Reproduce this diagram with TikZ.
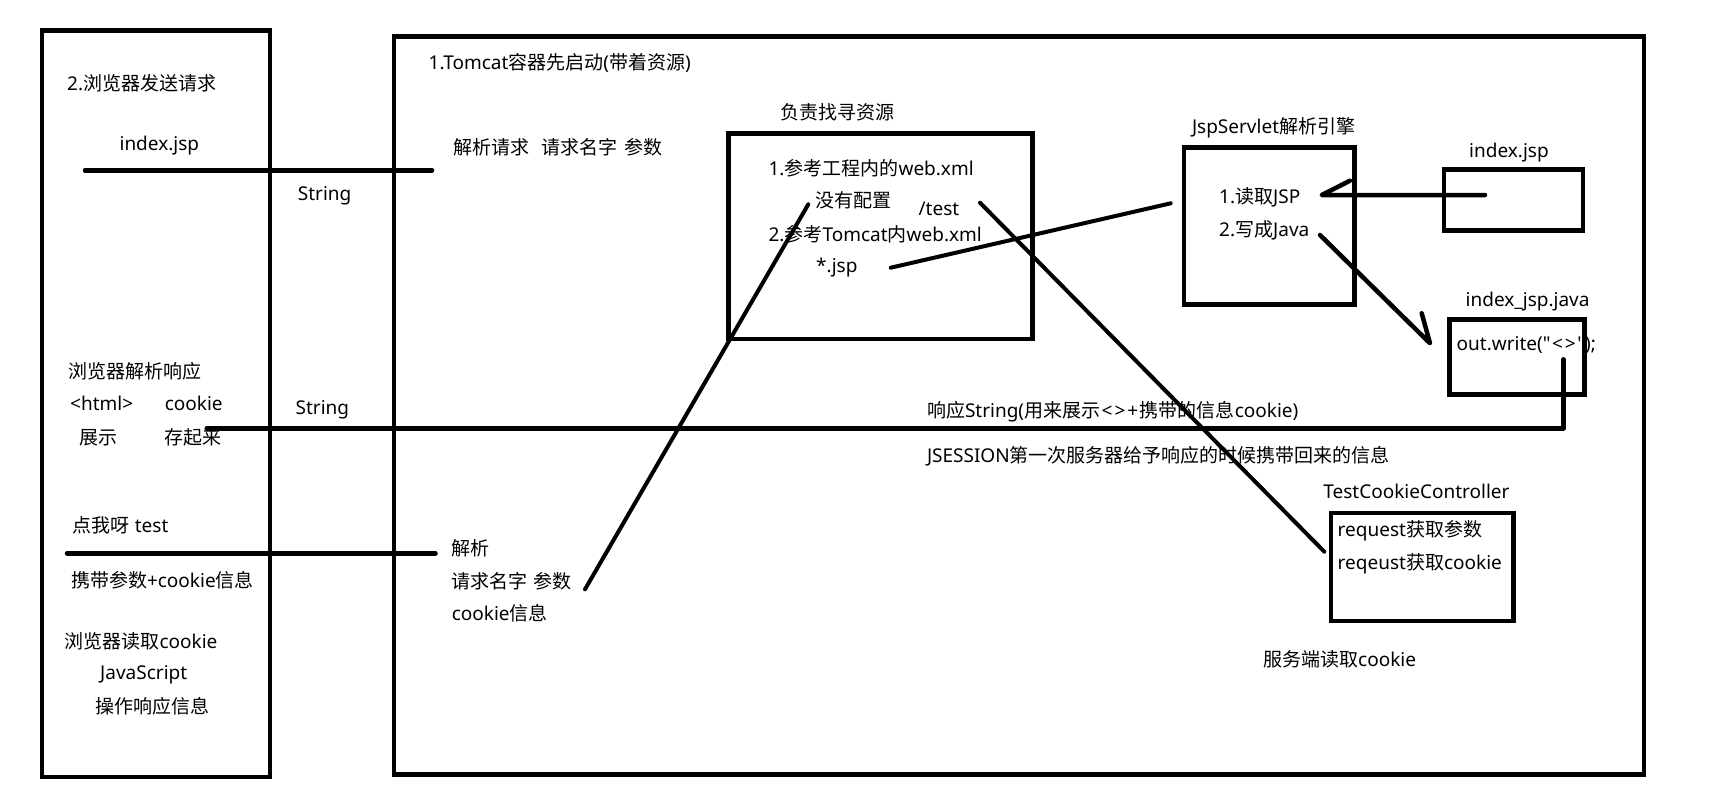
\documentclass[tikz,border=0pt]{standalone}
\usepackage{fontspec}
\setmainfont{Noto Sans}
\newfontfamily\cjk{Noto Sans CJK SC}
\newfontfamily\rawlat{Noto Sans}
\newcommand{\zh}[1]{{\cjk #1}}
\newcommand{\sq}{{\rawlat\symbol{34}}}
\begin{document}
\begin{tikzpicture}[x=1pt,y=-1pt,
  box/.style={draw, line width=4.5pt, inner sep=0pt, outer sep=0pt},
  conn/.style={line width=4.5pt, line cap=round, line join=round},
  diag/.style={line width=4pt, line cap=round, line join=round},
  lbl/.style={anchor=base west, inner sep=0pt, font=\fontsize{19}{23}\selectfont}]
\useasboundingbox (0,0) rectangle (1720,809);
\fill[white] (0,0) rectangle (1720,809);

% boxes
\node[box, minimum width=228pt, minimum height=746.7pt] (browser) at (155.8,403.7) {};
\node[box, minimum width=1250.2pt, minimum height=737.6pt] (tomcat) at (1018.9,405.5) {};
\node[box, minimum width=303.9pt, minimum height=205.7pt] (resource) at (880.5,236.2) {};
\node[box, minimum width=170.5pt, minimum height=157.2pt] (engine) at (1269.3,225.9) {};
\node[box, minimum width=138.7pt, minimum height=61.2pt] (indexjsp) at (1513.4,199.9) {};
\node[box, minimum width=135.4pt, minimum height=75pt] (javafile) at (1517,356.8) {};
\node[box, minimum width=182.4pt, minimum height=108.3pt] (controller) at (1422.2,566.9) {};

% labels: browser
\node[lbl] (t1) at (67,90) {2.\zh{浏览器发送请求}};
\node[lbl] (t2) at (119.4,150.5) {index.jsp};
\node[lbl] (t3) at (297.7,200.5) {String};
\node[lbl] (t18) at (68,378.7) {\zh{浏览器解析响应}};
\node[lbl] (t19a) at (70,410.5) {<html>};
\node[lbl] (t19b) at (164.6,410.5) {cookie};
\node[lbl] (t20) at (295.5,414.5) {String};
\node[lbl] (t21a) at (79.6,444) {\zh{展示}};
\node[lbl] (t21b) at (164.6,444) {\zh{存起来}};
\node[lbl] (t24) at (72.7,532) {\zh{点我呀} test};
\node[lbl] (t25) at (70.8,587) {\zh{携带参数}+cookie\zh{信息}};
\node[lbl] (t26) at (64.3,648.7) {\zh{浏览器读取}cookie};
\node[lbl] (t27) at (100,679.5) {JavaScript};
\node[lbl] (t28) at (95,713.7) {\zh{操作响应信息}};

% labels: tomcat
\node[lbl] (t4) at (428.5,69) {1.Tomcat\zh{容器先启动}(\zh{带着资源})};
\node[lbl] (t5) at (453.5,154) {\zh{解析请求}\hspace{12pt}\zh{请求名字}\hspace{7pt}\zh{参数}};
\node[lbl] (t29) at (451.6,555.3) {\zh{解析}};
\node[lbl] (t30) at (451.6,588.7) {\zh{请求名字}\hspace{6pt}\zh{参数}};
\node[lbl] (t31) at (451.6,620.3) {cookie\zh{信息}};

% labels: resource box
\node[lbl] (t6) at (780,119) {\zh{负责找寻资源}};
\node[lbl] (t7) at (768.4,175.3) {1.\zh{参考工程内的}web.xml};
\node[lbl] (t8) at (815,207.7) {\zh{没有配置}};
\node[lbl] (t9) at (918.4,215.3) {/test};
\node[lbl] (t10) at (768.4,241.3) {2.\zh{参考}Tomcat\zh{内}web.xml};
\node[lbl] (t11) at (816,272.8) {*.jsp};

% labels: engine and files
\node[lbl] (t12) at (1191.8,133.2) {JspServlet\zh{解析引擎}};
\node[lbl] (t13) at (1219,203) {1.\zh{读取}JSP};
\node[lbl] (t14) at (1219,236.3) {2.\zh{写成}Java};
\node[lbl] (t15) at (1469,157.8) {index.jsp};
\node[lbl] (t16) at (1465.5,306.2) {index\_jsp.java};
\node[lbl] (t17) at (1456.5,350.5) {out.write(\sq\kern1.5pt<\kern2pt>\kern1.5pt\sq);};

% labels: response and controller
\node[lbl] (t22) at (926.8,417.5) {\zh{响应}String(\zh{用来展示}\kern1.5pt<\kern2pt>\kern2pt+\kern1.5pt\zh{携带的信息}cookie)};
\node[lbl] (t23) at (926.8,462) {JSESSION\zh{第一次服务器给予响应的时候携带回来的信息}};
\node[lbl] (t32) at (1323.2,498.5) {TestCookieController};
\node[lbl] (t33) at (1337.5,536.5) {request\zh{获取参数}};
\node[lbl] (t34) at (1337.5,569.2) {reqeust\zh{获取}cookie};
\node[lbl] (t35) at (1263,666.3) {\zh{服务端读取}cookie};

% connector end points
\coordinate (reqA) at (85,170.5);
\coordinate (reqB) at (432,170.5);
\coordinate (resA) at (206.7,428.3);
\coordinate (resB) at (1563.5,428.3);
\coordinate (resC) at (1563.5,359.3);
\coordinate (clkA) at (67,553.3);
\coordinate (clkB) at (435.5,553.3);
\coordinate (d1a) at (585,589.3);
\coordinate (d1b) at (808.3,204.3);
\coordinate (d2a) at (890.7,267.7);
\coordinate (d2b) at (1170.7,203.3);
\coordinate (d3a) at (980,202.7);
\coordinate (d3b) at (1324.3,551.7);
\coordinate (a1tail) at (1485,195);
\coordinate (a1tip) at (1321.7,195);
\coordinate (a1barb) at (1350,180.7);
\coordinate (a2tail) at (1320,235);
\coordinate (a2tip) at (1430,343.3);
\coordinate (a2barb) at (1421.7,313.3);

% connectors
\draw[conn] (reqA) -- (reqB);
\draw[conn] (resA) -- (resB) -- (resC);
\draw[conn] (clkA) -- (clkB);
\draw[diag] (d1a) -- (d1b);
\draw[diag] (d2a) -- (d2b);
\draw[diag] (d3a) -- (d3b);
\draw[conn] (a1tail) -- (a1tip) -- (a1barb);
\draw[conn] (a2tail) -- (a2tip) -- (a2barb);
\end{tikzpicture}
\end{document}
